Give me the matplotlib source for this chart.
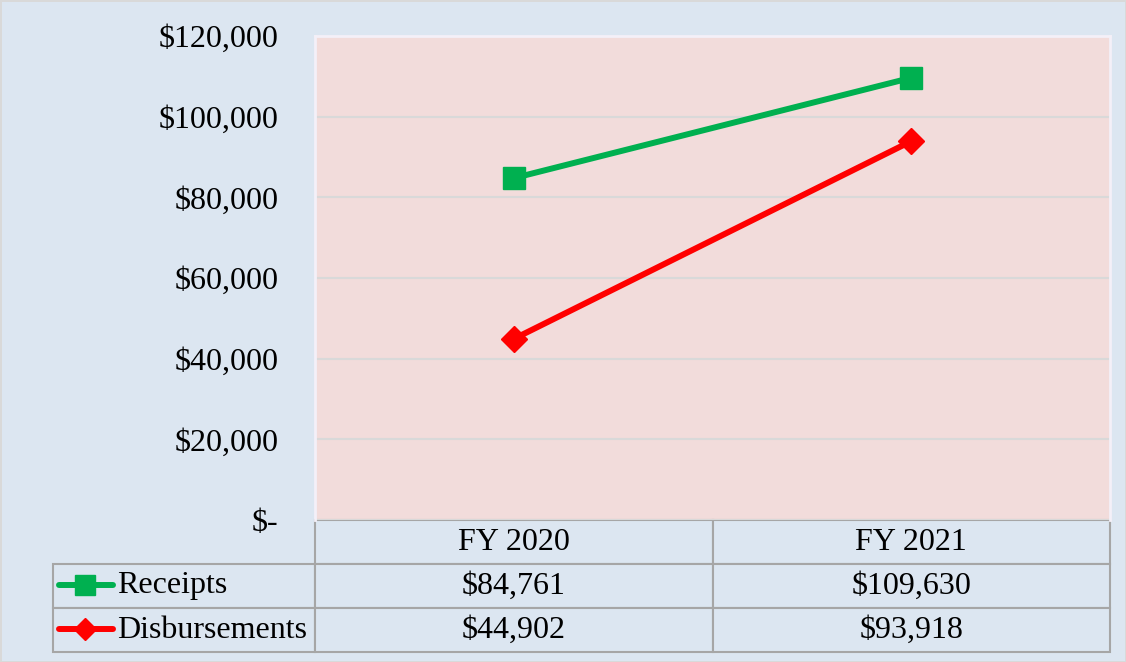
import matplotlib
matplotlib.use('Agg')
import matplotlib.pyplot as plt
from matplotlib.lines import Line2D
from matplotlib.ticker import FuncFormatter

# data
categories = ['FY 2020', 'FY 2021']
receipts = [84761, 109630]
disbursements = [44902, 93918]
series_names = ['Receipts', 'Disbursements']
y_ticks = [0, 20000, 40000, 60000, 80000, 100000, 120000]

W, H = 1126, 662
BG = '#DCE6F1'
PLOT_BG = '#F2DCDB'
GREEN = '#00B050'
RED = '#FF0000'
BORDER = '#A6A6A6'

plt.rcParams['font.family'] = ['Liberation Serif', 'DejaVu Serif']

fig = plt.figure(figsize=(W / 100, H / 100), dpi=100)
fig.patch.set_facecolor(BG)
fig.patch.set_edgecolor('#D9D9D9')
fig.patch.set_linewidth(2)


def px(x, y):
    # pixel (from top-left) -> figure fraction
    return x / W, 1 - y / H


left, top, right, bottom = 315, 36, 1110, 520
ax = fig.add_axes([left / W, 1 - bottom / H, (right - left) / W, (bottom - top) / H])
ax.set_facecolor(PLOT_BG)

x = list(range(len(categories)))
ax.plot(x, receipts, color=GREEN, lw=4.3, marker='s', ms=16.5, zorder=3)
ax.plot(x, disbursements, color=RED, lw=4.3, marker='D', ms=13, zorder=3)

ax.set_xlim(-0.5, len(categories) - 0.5)
ax.set_ylim(0, 120000)
ax.set_yticks(y_ticks)
ax.yaxis.set_major_formatter(FuncFormatter(lambda v, p: '$-' if v == 0 else f'${v:,.0f}'))
ax.tick_params(axis='y', length=0, pad=26.5, labelsize=23)
ax.set_xticks([])
ax.grid(axis='y', color='#D9D9D9', lw=1.5)
ax.set_axisbelow(True)
for s in ax.spines.values():
    s.set_color('#F4F0F8')
    s.set_linewidth(2)
ax.spines['bottom'].set_visible(False)

# data table below the plot
cell_text = [[''] + categories,
             series_names[:1] + [f'${v:,}' for v in receipts],
             series_names[1:] + [f'${v:,}' for v in disbursements]]
tbl_left, tbl_bottom = 53, 652
col_w = [left - tbl_left, (right - left) / 2, (right - left) / 2]
tot_w = sum(col_w)
tbl = ax.table(cellText=cell_text, colWidths=[c / tot_w for c in col_w],
               cellLoc='center',
               bbox=[(tbl_left - left) / (right - left), -(tbl_bottom - bottom) / (bottom - top),
                     tot_w / (right - left), (tbl_bottom - bottom) / (bottom - top)])
tbl.auto_set_font_size(False)
tbl.set_fontsize(23)
for (r, c), cell in tbl.get_celld().items():
    cell.set_facecolor(BG)
    cell.set_edgecolor(BORDER)
    cell.set_linewidth(1.5)
    if r == 0 and c == 0:
        cell.visible_edges = ''
    if c == 0 and r > 0:
        cell._loc = 'left'
        cell.PAD = 64 / col_w[0]
        cell.get_text().set_ha('left')

# legend glyphs in the row label cells
for row_y, col, mk, ms in [(585, GREEN, 's', 14), (629, RED, 'D', 11)]:
    x0, y0 = px(59, row_y)
    x1, _ = px(113, row_y)
    xm, _ = px(85, row_y)
    fig.add_artist(Line2D([x0, x1], [y0, y0], color=col, lw=4.3,
                          solid_capstyle='round', transform=fig.transFigure))
    fig.add_artist(Line2D([xm], [y0], color=col, marker=mk, ms=ms, lw=0,
                          transform=fig.transFigure))

fig.savefig('out.png', dpi=100, facecolor=fig.get_facecolor())
